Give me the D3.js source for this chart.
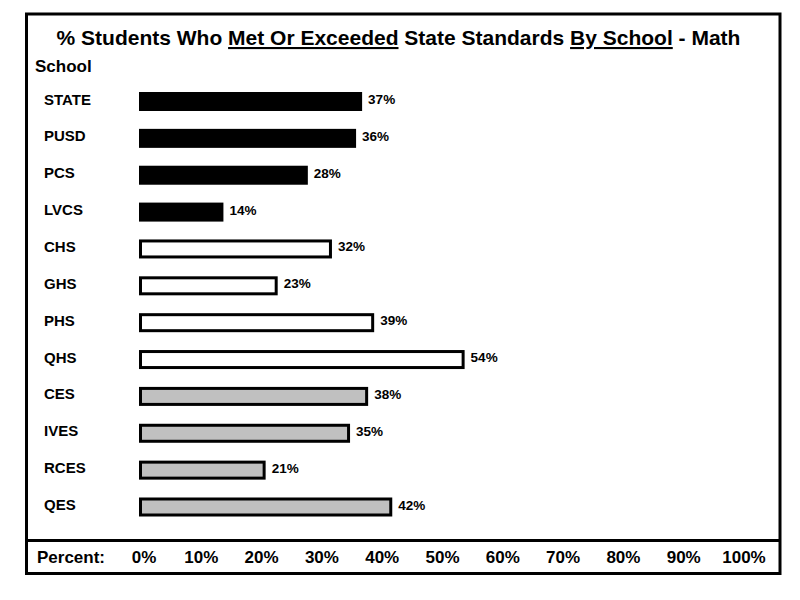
<!DOCTYPE html>
<html>
<head>
  <meta charset="UTF-8">
  <script type="text/javascript" src="https://d3js.org/d3.v7.min.js"></script>
  <style>
    body { margin: 0; background: #fff; }
    text { font-family: "Liberation Sans", Arial, sans-serif; font-weight: bold; fill: #000; }
  </style>
</head>
<body>
<script>
  var width = 800, height = 600;

  // data
  var schools = ["STATE", "PUSD", "PCS", "LVCS", "CHS", "GHS", "PHS", "QHS", "CES", "IVES", "RCES", "QES"];
  var values  = [37, 36, 28, 14, 32, 23, 39, 54, 38, 35, 21, 42];
  var groups  = ["agg", "agg", "agg", "agg", "high", "high", "high", "high", "elem", "elem", "elem", "elem"];
  var tickValues = [0, 10, 20, 30, 40, 50, 60, 70, 80, 90, 100];

  var rows = schools.map(function(s, i) {
    return { school: s, value: values[i], group: groups[i] };
  });

  var svg = d3.select('body').append('svg').attr('width', width).attr('height', height);

  var x = d3.scaleLinear().domain([0, 100]).range([139, 742]);
  var y = d3.scalePoint().domain(schools).range([101.5, 507]);
  var barH = 19, sw = 3;

  // frame
  svg.append('rect')
    .attr('x', 26.5).attr('y', 14)
    .attr('width', 753.5).attr('height', 559.5)
    .attr('fill', 'none').attr('stroke', '#000').attr('stroke-width', 3);
  svg.append('line')
    .attr('x1', 26.5).attr('x2', 780)
    .attr('y1', 540.5).attr('y2', 540.5)
    .attr('stroke', '#000').attr('stroke-width', 3);

  // title with underlined parts
  var title = svg.append('text')
    .attr('x', 398.5).attr('y', 45)
    .attr('text-anchor', 'middle')
    .style('font-size', '21px');
  var parts = [
    ["% Students Who ", false],
    ["Met Or Exceeded", true],
    [" State Standards ", false],
    ["By School", true],
    [" - Math", false]
  ];
  parts.forEach(function(p) {
    title.append('tspan')
      .style('text-decoration', p[1] ? 'underline' : 'none')
      .style('white-space', 'pre')
      .text(p[0]);
  });

  svg.append('text')
    .attr('x', 35).attr('y', 72)
    .style('font-size', '17px')
    .text('School');

  // category labels
  svg.selectAll('.cat')
    .data(rows)
    .join('text')
    .attr('class', 'cat')
    .attr('x', 44)
    .attr('y', function(d) { return y(d.school) + 3; })
    .style('font-size', '15px')
    .text(function(d) { return d.school; });

  // bars
  svg.selectAll('.bar')
    .data(rows)
    .join('rect')
    .attr('class', 'bar')
    .attr('x', function(d) { return d.group === 'agg' ? x(0) : x(0) + sw / 2; })
    .attr('y', function(d) { return d.group === 'agg' ? y(d.school) - barH / 2 : y(d.school) - barH / 2 + sw / 2; })
    .attr('width', function(d) { return d.group === 'agg' ? x(d.value) - x(0) : x(d.value) - x(0) - sw; })
    .attr('height', function(d) { return d.group === 'agg' ? barH : barH - sw; })
    .attr('fill', function(d) { return d.group === 'agg' ? '#000' : d.group === 'high' ? '#fff' : '#c0c0c0'; })
    .attr('stroke', function(d) { return d.group === 'agg' ? 'none' : '#000'; })
    .attr('stroke-width', sw);

  // value labels
  svg.selectAll('.val')
    .data(rows)
    .join('text')
    .attr('class', 'val')
    .attr('x', function(d) { return x(d.value) + 6; })
    .attr('y', function(d) { return y(d.school) + 2.5; })
    .style('font-size', '13.5px')
    .text(function(d) { return d.value + '%'; });

  // bottom scale
  svg.append('text')
    .attr('x', 37).attr('y', 563)
    .style('font-size', '17px')
    .text('Percent:');

  svg.selectAll('.tick')
    .data(tickValues)
    .join('text')
    .attr('class', 'tick')
    .attr('x', function(d) { return x(d) + (d === 0 ? 5 : 2); })
    .attr('y', 563)
    .attr('text-anchor', 'middle')
    .style('font-size', '17px')
    .text(function(d) { return d + '%'; });
</script>
</body>
</html>
